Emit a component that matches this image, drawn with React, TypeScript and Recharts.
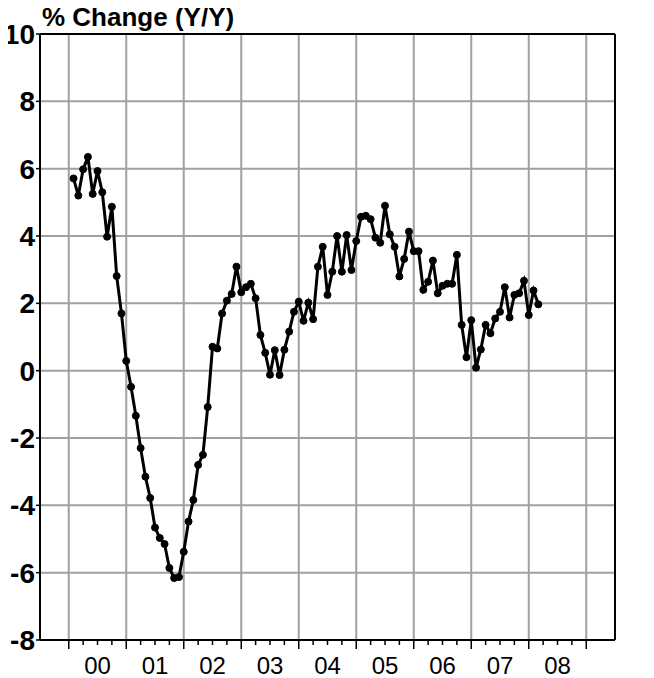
import { LineChart, Line, XAxis, YAxis, CartesianGrid, ReferenceLine } from 'recharts';

// monthly % change Y/Y, first reading Feb 2000
const START_YEAR = 2000;
const START_MONTH = 2;
const values = [
  5.71, 5.2, 5.98, 6.35, 5.25, 5.93, 5.3, 3.98, 4.87, 2.81, 1.7,
  0.29, -0.48, -1.34, -2.3, -3.15, -3.78, -4.66, -4.97, -5.15, -5.86, -6.16, -6.13,
  -5.38, -4.48, -3.84, -2.8, -2.5, -1.08, 0.71, 0.66, 1.7, 2.08, 2.28, 3.09,
  2.33, 2.48, 2.58, 2.15, 1.06, 0.53, -0.12, 0.61, -0.13, 0.62, 1.16, 1.75,
  2.05, 1.48, 2.02, 1.53, 3.09, 3.68, 2.25, 2.94, 4.0, 2.94, 4.03, 2.99,
  3.85, 4.57, 4.6, 4.5, 3.95, 3.8, 4.9, 4.05, 3.68, 2.8, 3.32, 4.13,
  3.55, 3.55, 2.4, 2.64, 3.27, 2.3, 2.52, 2.58, 2.58, 3.44, 1.36, 0.4,
  1.5, 0.09, 0.63, 1.36, 1.11, 1.55, 1.75, 2.48, 1.58, 2.25, 2.3, 2.67,
  1.65, 2.38, 1.97,
];

const yTicks = [-8, -6, -4, -2, 0, 2, 4, 6, 8, 10];
const yearLines = [2000, 2001, 2002, 2003, 2004, 2005, 2006, 2007, 2008, 2009];
const yearLabels = ['00', '01', '02', '03', '04', '05', '06', '07', '08'];

const data = values.map((v, i) => ({ t: START_YEAR + (START_MONTH - 1 + i) / 12, v }));

// quarter ticks between the first and last year line
const quarterTicks: number[] = [];
yearLines.forEach((y, i) => {
  quarterTicks.push(y);
  if (i < yearLines.length - 1) quarterTicks.push(y + 0.25, y + 0.5, y + 0.75);
});

const FONT = '"Liberation Sans", Arial, sans-serif';
const GRID = '#a0a0a0';

function YearTick({ x, y, payload }: any) {
  const v = payload.value;
  const whole = Math.abs(v - Math.round(v)) < 1e-6;
  const mid = Math.abs(v - Math.floor(v) - 0.5) < 1e-6;
  const label = yearLabels[Math.floor(v) - START_YEAR];
  return (
    <g>
      <line x1={x} x2={x} y1={y} y2={y + (whole ? 9 : 5)} stroke="#000" strokeWidth={1.5} />
      {mid && label && (
        <text x={x} y={y + 25} textAnchor="middle" dominantBaseline="central"
          fontSize={24} fontFamily={FONT} fill="#000">
          {label}
        </text>
      )}
    </g>
  );
}

const yTickStyle = { fill: '#000', fontSize: 28, fontWeight: 700, fontFamily: FONT };

export default function App() {
  return (
    <div style={{ margin: '-8px 0 0 -8px', width: 654, height: 678, position: 'relative', background: '#fff' }}>
      <LineChart width={654} height={678} data={data} margin={{ top: 34, right: 0, bottom: 0, left: 0 }}>
        <CartesianGrid stroke={GRID} strokeWidth={2} vertical={false} />
        {yearLines.map((yr) => (
          <ReferenceLine key={yr} x={yr} stroke={GRID} strokeWidth={2} />
        ))}
        <XAxis
          dataKey="t"
          type="number"
          domain={[1999.5, 2009.5]}
          ticks={quarterTicks}
          interval={0}
          height={38}
          tickSize={0}
          tickMargin={0}
          tickLine={false}
          axisLine={{ stroke: '#000', strokeWidth: 2 }}
          tick={<YearTick />}
        />
        <YAxis
          domain={[-8, 10]}
          ticks={yTicks}
          interval={0}
          width={40}
          tickSize={4}
          tickMargin={1}
          tickLine={{ stroke: '#000', strokeWidth: 1.5 }}
          axisLine={{ stroke: '#000', strokeWidth: 2 }}
          tick={yTickStyle}
        />
        <YAxis
          yAxisId="right"
          orientation="right"
          domain={[-8, 10]}
          ticks={yTicks}
          interval={0}
          width={39}
          tickSize={4}
          tickMargin={2}
          tickLine={{ stroke: '#000', strokeWidth: 1.5 }}
          axisLine={{ stroke: '#000', strokeWidth: 2 }}
          tick={yTickStyle}
        />
        <ReferenceLine y={10} stroke="#000" strokeWidth={2} />
        <Line
          type="linear"
          dataKey="v"
          stroke="#000"
          strokeWidth={3}
          dot={{ r: 3.5, fill: '#000', stroke: '#000', strokeWidth: 1 }}
          isAnimationActive={false}
        />
      </LineChart>
      <div style={{
        position: 'absolute', left: 42, top: 4, zIndex: 1, fontSize: 26, lineHeight: '26px',
        fontWeight: 700, fontFamily: FONT, color: '#000', whiteSpace: 'nowrap',
      }}>
        % Change (Y/Y)
      </div>
    </div>
  );
}
